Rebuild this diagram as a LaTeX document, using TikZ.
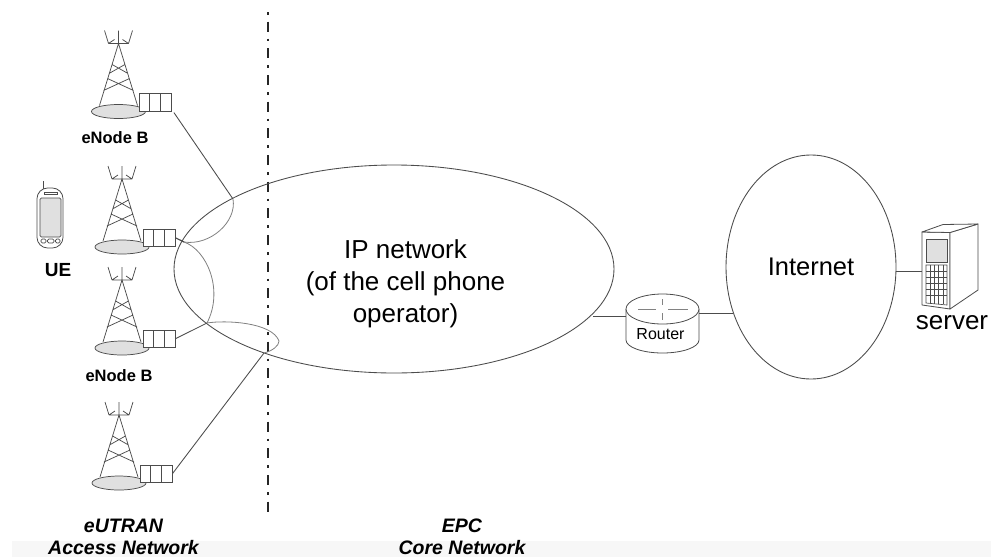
\documentclass[tikz,border=0pt]{standalone}
\usepackage{fontspec}
\setmainfont{Liberation Sans}
\usetikzlibrary{shapes.geometric}
\definecolor{ln}{gray}{0.3}
\definecolor{lnlight}{gray}{0.5}
\definecolor{fillg}{gray}{0.88}
\newcommand{\fs}[1]{\fontsize{\dimexpr#1pt*3/4\relax}{\dimexpr#1pt*9/10\relax}\selectfont}
\tikzset{
  x=0.75pt,y=-0.75pt,
  wire/.style={draw=ln,line width=0.65pt},
  softwire/.style={draw=lnlight,line width=0.6pt},
  cloud shape/.style={ellipse,draw=ln,line width=0.65pt,inner sep=0pt,align=center},
  bsname/.style={font=\fs{16.5}\bfseries,inner sep=0pt},
  zone/.style={font=\fs{19.5}\bfseries\itshape,inner sep=0pt,align=center},
  big/.style={font=\fs{26},inner sep=0pt,align=center},
  cellbox/.style={draw=ln,line width=0.65pt,fill=white,minimum width=24pt,minimum height=13.2pt,inner sep=0pt},
  pics/tower/.style={code={
    \draw[ln,line width=0.55pt,fill=fillg] (0,0) ellipse [x radius=27,y radius=7];
    \draw[ln,line width=0.55pt,line join=round]
      (-19,-6) -- (0,-68) -- (19,-6)
      (-6.4,-47) -- (9.5,-38) (6.4,-47) -- (-9.5,-38)
      (-11,-33) -- (15,-21) (11,-33) -- (-15,-21)
      (-10,-68) -- (10,-68)
      (0,-68) -- (0,-81)
      (-10,-68) -- (-14,-81) (10,-68) -- (14,-81)
      (-10,-68) -- (-4,-72) (10,-68) -- (4,-72);
    \node[cellbox,anchor=south west] (-box) at (20.5,0) {};
    \draw[ln,line width=0.55pt] (31,-17.6) -- (31,0) (42,-17.6) -- (42,0);
  }}
}
\begin{document}
\begin{tikzpicture}
\useasboundingbox (0,0) rectangle (991,557);
\fill[white] (0,0) rectangle (991,557);
\fill[gray!6] (12,541) rectangle (991,557);

% separator
\coordinate (sepa) at (268,12);
\coordinate (sepb) at (268,512);
\draw[black!85,line width=2.2pt,dash pattern=on 2pt off 5.25pt on 7.5pt off 5.25pt] (sepa) -- (sepb);

% clouds
\node[cloud shape,minimum width=330pt,minimum height=156pt] (ipnet) at (394,269) {};
\node[big] (iptext) at (405.5,284) {IP network\\[0.7pt](of the cell phone\\[0.7pt]operator)};
\node[cloud shape,minimum width=127.5pt,minimum height=168pt,font=\fs{25.5}] (internet) at (811,267) {Internet};

% towers
\pic (t1) at (118.5,111.5) {tower};
\pic (t2) at (122,247) {tower};
\pic (t3) at (122,348) {tower};
\pic (t4) at (119,483) {tower};
\node[bsname] (lab1) at (115,138) {eNode B};
\node[bsname] (lab3) at (119,376) {eNode B};

% junctions on the cloud
\coordinate (j1) at (233,199);
\coordinate (j2) at (184,242);
\coordinate (j3) at (207,323);
\coordinate (j4) at (264,353);
\coordinate (ipout) at (593,316);

\draw[wire] (t1-box.south east) ++(2,1) -- (j1);
\draw[wire,line width=0.9pt] (t2-box.east) -- (j2);
\draw[wire] (t3-box.east) -- (j3);
\draw[wire] (t4-box.east) -- (j4);
\draw[softwire] (j1) .. controls (237,222) and (210,246) .. (j2);
\draw[softwire] (j2) .. controls (207,250) and (224,290) .. (j3);
\draw[softwire] (j3) .. controls (225,320) and (272,322) .. (279,341)
   .. controls (279,346) and (272,351) .. (j4);

% phone
\draw[ln,line width=0.6pt] (43,181) -- (43,190);
\draw[ln,line width=0.6pt,fill=white,rounded corners=8pt] (37,188) -- (63,188) -- (63,248) -- (37,248) -- cycle;
\draw[ln,line width=0.5pt,fill=fillg,rounded corners=1pt] (40,198) rectangle (61,237);
\draw[ln,line width=0.5pt] (44,192.5) rectangle (57,194.5);
\draw[ln,line width=0.5pt,rounded corners=1pt] (41,239) rectangle (46,243) (47.5,239) rectangle (54,243) (55.5,239) rectangle (60,243);
\node[font=\fs{19}\bfseries,inner sep=0pt] (ue) at (58,270) {UE};

% router
\draw[ln,line width=0.6pt,fill=white] (626,309) -- (626,340) arc[start angle=180,end angle=360,x radius=36.5,y radius=-13] -- (699,309);
\draw[ln,line width=0.6pt,fill=white] (662.5,309) ellipse [x radius=36.5,y radius=15];
\draw[ln!70,line width=0.4pt] (638,309) -- (656,309) (668,309) -- (688,309) (662.5,299) -- (662.5,305) (662.5,313) -- (662.5,320);
\node[font=\fs{16},inner sep=0pt] (router) at (660.5,334) {Router};
\coordinate (rl) at (626,316);
\coordinate (rr) at (699,313.5);
\coordinate (intl) at (733,313.5);
\coordinate (intr) at (896,271);
\coordinate (srvl) at (922,271);
\draw[wire] (ipout) -- (rl);
\draw[wire] (rr) -- (intl);
\draw[wire] (intr) -- (srvl);

% server
\draw[ln,line width=0.6pt,line join=round,fill=white] (922,232) -- (950,232.5) -- (950,309) -- (922,305) -- cycle;
\draw[ln,line width=0.6pt,line join=round,fill=white] (950,232.5) -- (978,224) -- (978,290) -- (950,309) -- cycle;
\draw[ln,line width=0.6pt,line join=round,fill=white] (922,232) -- (943,224.5) -- (978,224) -- (950,232.5) -- cycle;
\draw[ln,line width=0.5pt,fill=fillg] (926,239) rectangle (947,262);
\draw[ln,line width=0.5pt] (926,265) -- (947,265) -- (947,305) -- (926,303) -- cycle;
\foreach \kx in {930.2,934.4,938.6,942.8}{\draw[ln,line width=0.4pt] (\kx,265) -- (\kx,304);}
\foreach \ky in {271,277,283,289,295}{\draw[ln,line width=0.4pt] (926,\ky) -- (947,\ky);}
\node[big] (srv) at (952,323) {server};

% zone labels
\node[zone] (z1) at (123.5,526) {eUTRAN};
\node[zone] (z2) at (123.5,547.5) {Access Network};
\node[zone] (z3) at (462,526) {EPC};
\node[zone] (z4) at (462,547.5) {Core Network};
\end{tikzpicture}
\end{document}
